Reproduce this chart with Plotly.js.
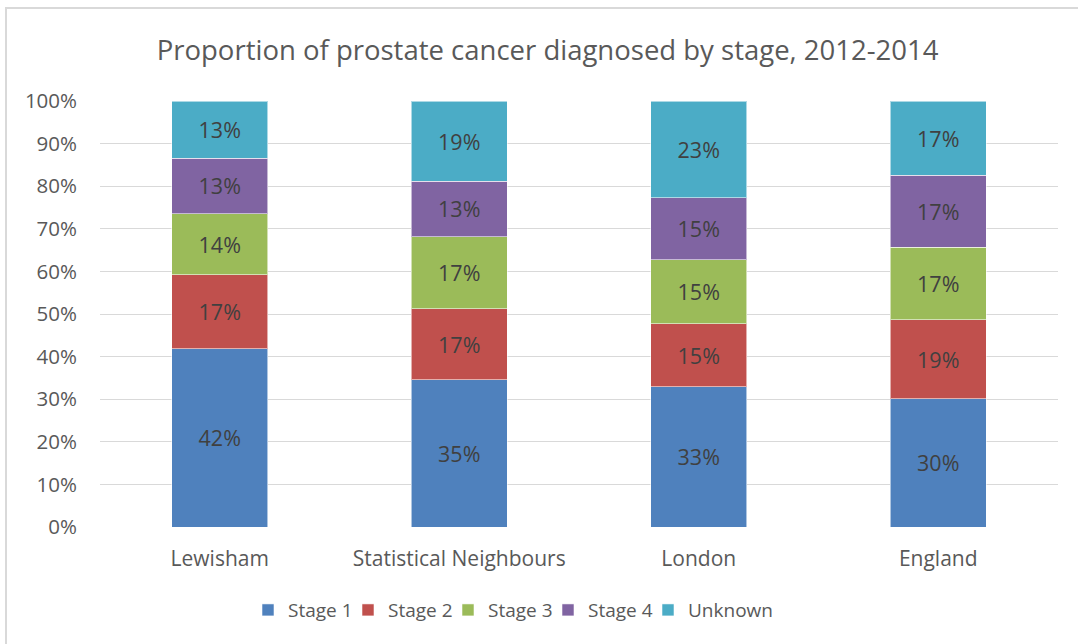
<!DOCTYPE html>
<html>
<head>
<meta charset="utf-8">
<script src="https://cdn.plot.ly/plotly-3.0.1.min.js"></script>
<style>
  html, body { margin: 0; padding: 0; background: #fff; }
  #wrap { position: relative; width: 1078px; height: 644px; overflow: hidden; }
  #chart { position: absolute; left: 0; top: 0; width: 1078px; height: 644px; }
  #frame { position: absolute; left: 5px; top: 7px; width: 1200px; height: 800px;
           border-top: 2px solid #D9D9D9; border-left: 2px solid #D9D9D9; pointer-events: none; }
</style>
</head>
<body>
<div id="wrap">
  <div id="chart"></div>
  <div id="frame"></div>
</div>
<script>
const categories = ["Lewisham", "Statistical Neighbours", "London", "England"];
const stage1  = [41.8, 34.6, 32.9, 30.1];
const stage2  = [17.4, 16.6, 14.8, 18.6];
const stage3  = [14.3, 16.9, 15.0, 17.0];
const stage4  = [13.1, 13.1, 14.6, 16.9];
const unknown = [13.4, 18.8, 22.7, 17.4];
const seriesNames = ["Stage 1", "Stage 2", "Stage 3", "Stage 4", "Unknown"];
const yTickVals = [0, 10, 20, 30, 40, 50, 60, 70, 80, 90, 100];
const yTickText = ["0%", "10%", "20%", "30%", "40%", "50%", "60%", "70%", "80%", "90%", "100%"];

const colors = ["#4F81BD", "#C0504D", "#9BBB59", "#8064A2", "#4BACC6"];
const allSeries = [stage1, stage2, stage3, stage4, unknown];
const FONT = "Open Sans, sans-serif";
const legendIds = ["legend", "legend2", "legend3", "legend4", "legend5"];

const traces = allSeries.map((vals, i) => ({
  type: "bar",
  name: seriesNames[i],
  x: categories,
  y: vals,
  legend: legendIds[i],
  marker: { color: colors[i], line: { color: "rgba(255,255,255,0.55)", width: 1 } },
  texttemplate: "%{y:.0f}%",
  textposition: "inside",
  insidetextanchor: "middle",
  constraintext: "none",
  textfont: { family: FONT, size: 21.5, color: "#404040" },
  hoverinfo: "skip"
}));

const legendBase = {
  orientation: "h",
  y: -0.195, yanchor: "middle",
  xanchor: "left",
  font: { family: FONT, size: 19, color: "#595959" },
  itemclick: false,
  itemwidth: 30,
  bgcolor: "rgba(0,0,0,0)"
};

const layout = {
  width: 1078, height: 644,
  barmode: "stack",
  bargap: 0.6,
  paper_bgcolor: "#ffffff",
  plot_bgcolor: "#ffffff",
  margin: { l: 100, r: 20, t: 101, b: 117 },
  font: { family: FONT, color: "#595959" },
  title: {
    text: "Proportion of prostate cancer diagnosed by stage, 2012-2014",
    font: { family: FONT, size: 27.5, color: "#595959" },
    xref: "container", x: 0.508, xanchor: "center",
    yref: "container", y: 1 - 50 / 644, yanchor: "middle"
  },
  xaxis: {
    type: "category",
    showgrid: false,
    showline: false,
    zeroline: false,
    ticks: "",
    ticklabelstandoff: 17,
    tickfont: { family: FONT, size: 21, color: "#595959" }
  },
  yaxis: {
    range: [0, 100],
    tickvals: yTickVals,
    ticktext: yTickText,
    showgrid: true,
    gridcolor: "#D9D9D9",
    gridwidth: 1,
    zeroline: false,
    showline: false,
    ticks: "",
    ticklabelstandoff: 22,
    tickfont: { family: FONT, size: 20.5, color: "#595959" }
  },
  showlegend: true
};
legendIds.forEach((id, i) => {
  layout[id] = Object.assign({}, legendBase, { x: (148 + 100 * i) / 958 });
});

Plotly.newPlot("chart", traces, layout, { displayModeBar: false, staticPlot: true });
</script>
</body>
</html>
